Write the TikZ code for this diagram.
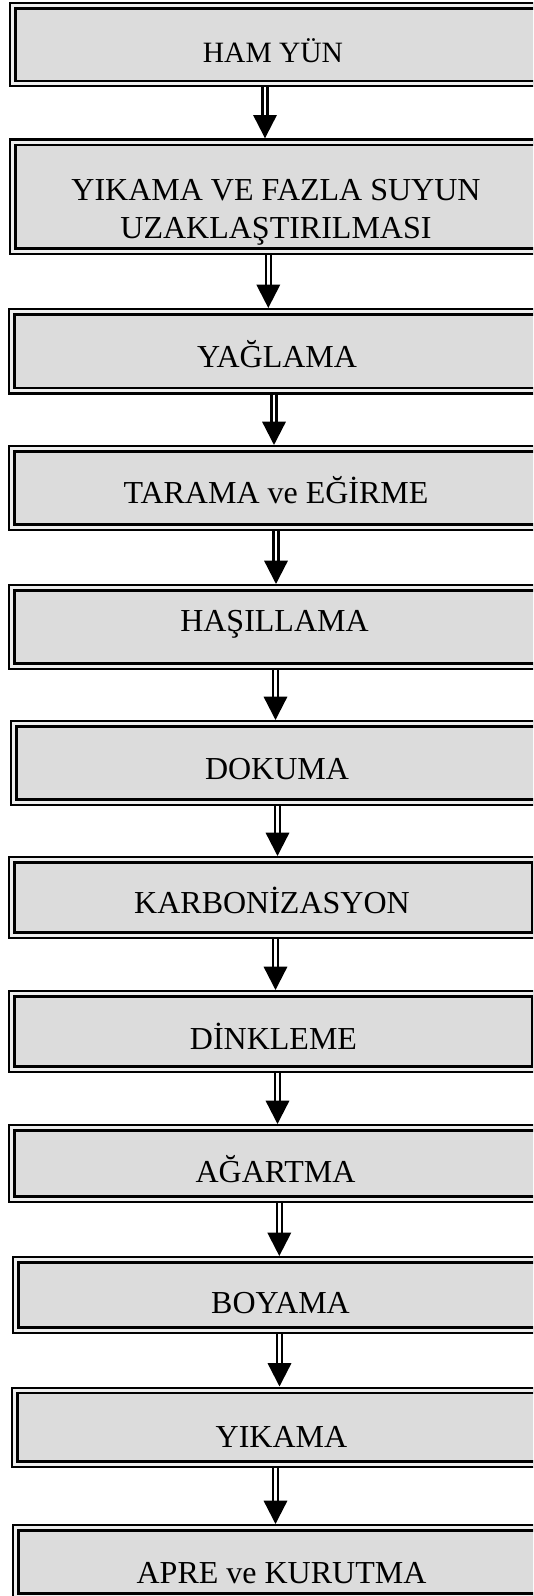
\documentclass[tikz,border=0pt]{standalone}
\usepackage{fontspec}
\setmainfont{Liberation Serif}
\usetikzlibrary{arrows.meta}
\definecolor{boxfill}{HTML}{DCDCDC}
\definecolor{gapfill}{HTML}{EEEEEE}
\begin{document}
\begin{tikzpicture}[x=1pt,y=-1pt,
  stepbox/.style={draw=black, line width=2.3pt, double=gapfill, double distance=3pt,
    fill=boxfill, rectangle, inner sep=0pt, outer sep=3.8pt},
  lbl/.style={font=\fontsize{32}{37.4}\selectfont, inner sep=0pt, anchor=base},
  flow/.style={draw=black, line width=2.3pt, double=white, double distance=2.6pt,
    -{Triangle[width=23.3pt,length=23.3pt]}}]
\useasboundingbox (0,0) rectangle (533,1596);
\clip (0,0) rectangle (533,1596);
% boxes
\node[stepbox, minimum width=532.2pt, minimum height=77.7pt]  (b1)  at (278.9,44.65) {};
\node[stepbox, minimum width=532.2pt, minimum height=109.1pt] (b2)  at (278.9,196.65) {};
\node[stepbox, minimum width=533.2pt, minimum height=78.9pt]  (b3)  at (278.4,351.25) {};
\node[stepbox, minimum width=533.2pt, minimum height=78.4pt]  (b4)  at (278.4,488) {};
\node[stepbox, minimum width=533.2pt, minimum height=78.4pt]  (b5)  at (278.4,627) {};
\node[stepbox, minimum width=531.2pt, minimum height=78.4pt]  (b6)  at (279.4,763) {};
\node[stepbox, minimum width=522.7pt, minimum height=75.4pt]  (b7)  at (273.15,897.5) {};
\node[stepbox, minimum width=522.7pt, minimum height=75.4pt]  (b8)  at (273.15,1031.5) {};
\node[stepbox, minimum width=533.2pt, minimum height=71.4pt]  (b9)  at (278.4,1163.5) {};
\node[stepbox, minimum width=529.2pt, minimum height=70.4pt]  (b10) at (280.4,1295) {};
\node[stepbox, minimum width=530.2pt, minimum height=73.9pt]  (b11) at (279.9,1427.25) {};
\node[stepbox, minimum width=529.2pt, minimum height=68.4pt]  (b12) at (280.4,1562) {};
% labels
\node[lbl, font=\fontsize{29.5}{35}\selectfont] (t1) at (273,62) {HAM YÜN};
\node[lbl] (t2) at (276,200.7) {\begin{tabular}[t]{@{}c@{}}YIKAMA VE FAZLA SUYUN\\UZAKLAŞTIRILMASI\end{tabular}};
\node[lbl] (t3) at (277,367) {YAĞLAMA};
\node[lbl] (t4) at (276,503) {TARAMA ve EĞİRME};
\node[lbl] (t5) at (274.5,631) {HAŞILLAMA};
\node[lbl] (t6) at (277,779) {DOKUMA};
\node[lbl] (t7) at (272,913) {KARBONİZASYON};
\node[lbl] (t8) at (273.5,1049) {DİNKLEME};
\node[lbl] (t9) at (275.5,1182) {AĞARTMA};
\node[lbl] (t10) at (280.5,1313) {BOYAMA};
\node[lbl] (t11) at (281.5,1447) {YIKAMA};
\node[lbl] (t12) at (281.5,1583) {APRE ve KURUTMA};
% arrow columns
\coordinate (a1) at (265,0);
\coordinate (a2) at (268.3,0);
\coordinate (a3) at (274,0);
\coordinate (a4) at (276,0);
\coordinate (a5) at (275.5,0);
\coordinate (a6) at (277.5,0);
\coordinate (a7) at (275.5,0);
\coordinate (a8) at (277.5,0);
\coordinate (a9) at (279.3,0);
\coordinate (a10) at (279.5,0);
\coordinate (a11) at (275.5,0);
\draw[flow] (b1.south -| a1) -- (b2.north -| a1);
\draw[flow] (b2.south -| a2) -- (b3.north -| a2);
\draw[flow] (b3.south -| a3) -- (b4.north -| a3);
\draw[flow] (b4.south -| a4) -- (b5.north -| a4);
\draw[flow] (b5.south -| a5) -- (b6.north -| a5);
\draw[flow] (b6.south -| a6) -- (b7.north -| a6);
\draw[flow] (b7.south -| a7) -- (b8.north -| a7);
\draw[flow] (b8.south -| a8) -- (b9.north -| a8);
\draw[flow] (b9.south -| a9) -- (b10.north -| a9);
\draw[flow] (b10.south -| a10) -- (b11.north -| a10);
\draw[flow] (b11.south -| a11) -- (b12.north -| a11);
\end{tikzpicture}
\end{document}
